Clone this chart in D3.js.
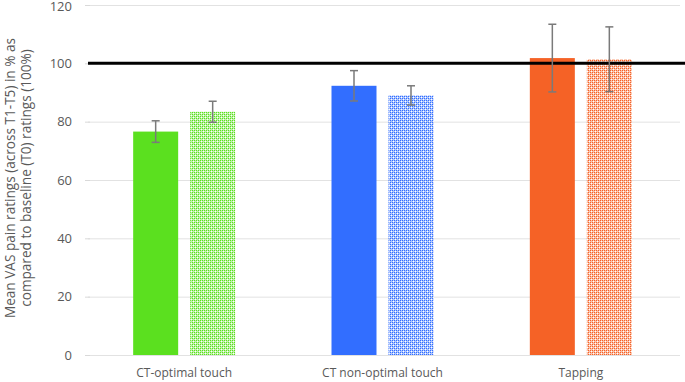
<!DOCTYPE html>
<html><head><meta charset="utf-8">
<script src="https://cdn.jsdelivr.net/npm/d3@7"></script>
<style>body{margin:0;background:#fff}svg{display:block}text{font-family:"Open Sans",sans-serif}</style>
</head><body>
<svg id="c" width="685" height="382"></svg>
<script>
const categories = ["CT-optimal touch", "CT non-optimal touch", "Tapping"];
const solidValues = [76.6, 92.3, 101.8];
const solidErrors = [3.7, 5.2, 11.6];
const patternValues = [83.4, 89.0, 101.4];
const patternErrors = [3.6, 3.3, 11.1];
const colors = ["#5BE01F", "#326EFF", "#F56226"];
const yTicks = [0, 20, 40, 60, 80, 100, 120];
const referenceValue = 100;

const svg = d3.select("#c");
const x0 = 85, x1 = 680, yTop = 5, yBot = 355;
const x = d3.scaleBand().domain(categories).range([x0, x1]);
const y = d3.scaleLinear().domain([0, 120]).range([yBot, yTop]);

const defs = svg.append("defs");
colors.forEach((c, i) => {
  const p = defs.append("pattern").attr("id", "p" + i).attr("patternUnits", "userSpaceOnUse")
    .attr("width", 4).attr("height", 4);
  p.append("rect").attr("width", 4).attr("height", 4).attr("fill", c).attr("opacity", 0.4);
  [[0,0],[2,2],[2,0],[0,2]].forEach(([a,b]) =>
    p.append("rect").attr("x", a).attr("y", b).attr("width", 1).attr("height", 1).attr("fill", c));
  [[1,1],[3,3]].forEach(([a,b]) =>
    p.append("rect").attr("x", a).attr("y", b).attr("width", 1).attr("height", 1).attr("fill", "#fff"));
});

// gridlines
svg.append("g").selectAll("line").data(yTicks).join("line")
  .attr("x1", x0 + 3).attr("x2", x1).attr("y1", d => y(d) + 0.5).attr("y2", d => y(d) + 0.5)
  .attr("stroke", "#e2e2e2").attr("stroke-width", 1);

// y axis labels & ticks
const ya = svg.append("g").attr("transform", `translate(${x0},0)`)
  .call(d3.axisLeft(y).tickValues(yTicks).tickSize(5).tickPadding(8));
ya.select(".domain").remove();
ya.selectAll(".tick line").attr("stroke", "#d9d9d9").attr("transform", "translate(5,0)");
ya.selectAll(".tick text").attr("fill", "#595959").style("font-size", "13px").style("font-family", "Open Sans")
  .attr("dy", d => d === 120 ? "0.42em" : "0.32em");

// bars
const bw = 45, gap = 12;
const g = svg.append("g");
categories.forEach((cat, i) => {
  const cx = x(cat) + x.bandwidth() / 2;
  const xs = cx - gap / 2 - bw, xp = cx + gap / 2;
  g.append("rect").attr("x", xs).attr("y", y(solidValues[i])).attr("width", bw)
    .attr("height", y(0) - y(solidValues[i])).attr("fill", colors[i]);
  g.append("rect").attr("x", xp).attr("y", y(patternValues[i])).attr("width", bw)
    .attr("height", y(0) - y(patternValues[i])).attr("fill", `url(#p${i})`);
});

// reference line
svg.append("line").attr("x1", x0 + 3).attr("x2", 685).attr("y1", y(referenceValue)).attr("y2", y(referenceValue))
  .attr("stroke", "#000").attr("stroke-width", 3);

// error bars
categories.forEach((cat, i) => {
  const cx = x(cat) + x.bandwidth() / 2;
  [[cx - gap / 2 - bw / 2, solidValues[i], solidErrors[i]], [cx + gap / 2 + bw / 2, patternValues[i], patternErrors[i]]]
    .forEach(([ex, v, e]) => {
      const eg = svg.append("g").attr("stroke", "#7a7a7a").attr("stroke-width", 1.5);
      eg.append("line").attr("x1", ex).attr("x2", ex).attr("y1", y(v + e)).attr("y2", y(v - e));
      eg.append("line").attr("x1", ex - 4).attr("x2", ex + 4).attr("y1", y(v + e)).attr("y2", y(v + e));
      eg.append("line").attr("x1", ex - 4).attr("x2", ex + 4).attr("y1", y(v - e)).attr("y2", y(v - e));
    });
});

// x labels
svg.append("g").selectAll("text").data(categories).join("text")
  .attr("x", d => x(d) + x.bandwidth() / 2).attr("y", 377).attr("text-anchor", "middle")
  .attr("fill", "#595959").style("font-size", "12px").text(d => d);

// y title
const t = svg.append("text").attr("transform", `translate(0,178) rotate(-90)`)
  .attr("text-anchor", "middle").attr("fill", "#595959").style("font-size", "13.6px");
t.append("tspan").attr("x", 0).attr("y", 14.5).text("Mean VAS pain ratings (across T1-T5) in % as");
t.append("tspan").attr("x", 0).attr("y", 31).text("compared to baseline (T0) ratings (100%)");
</script>
</body></html>
